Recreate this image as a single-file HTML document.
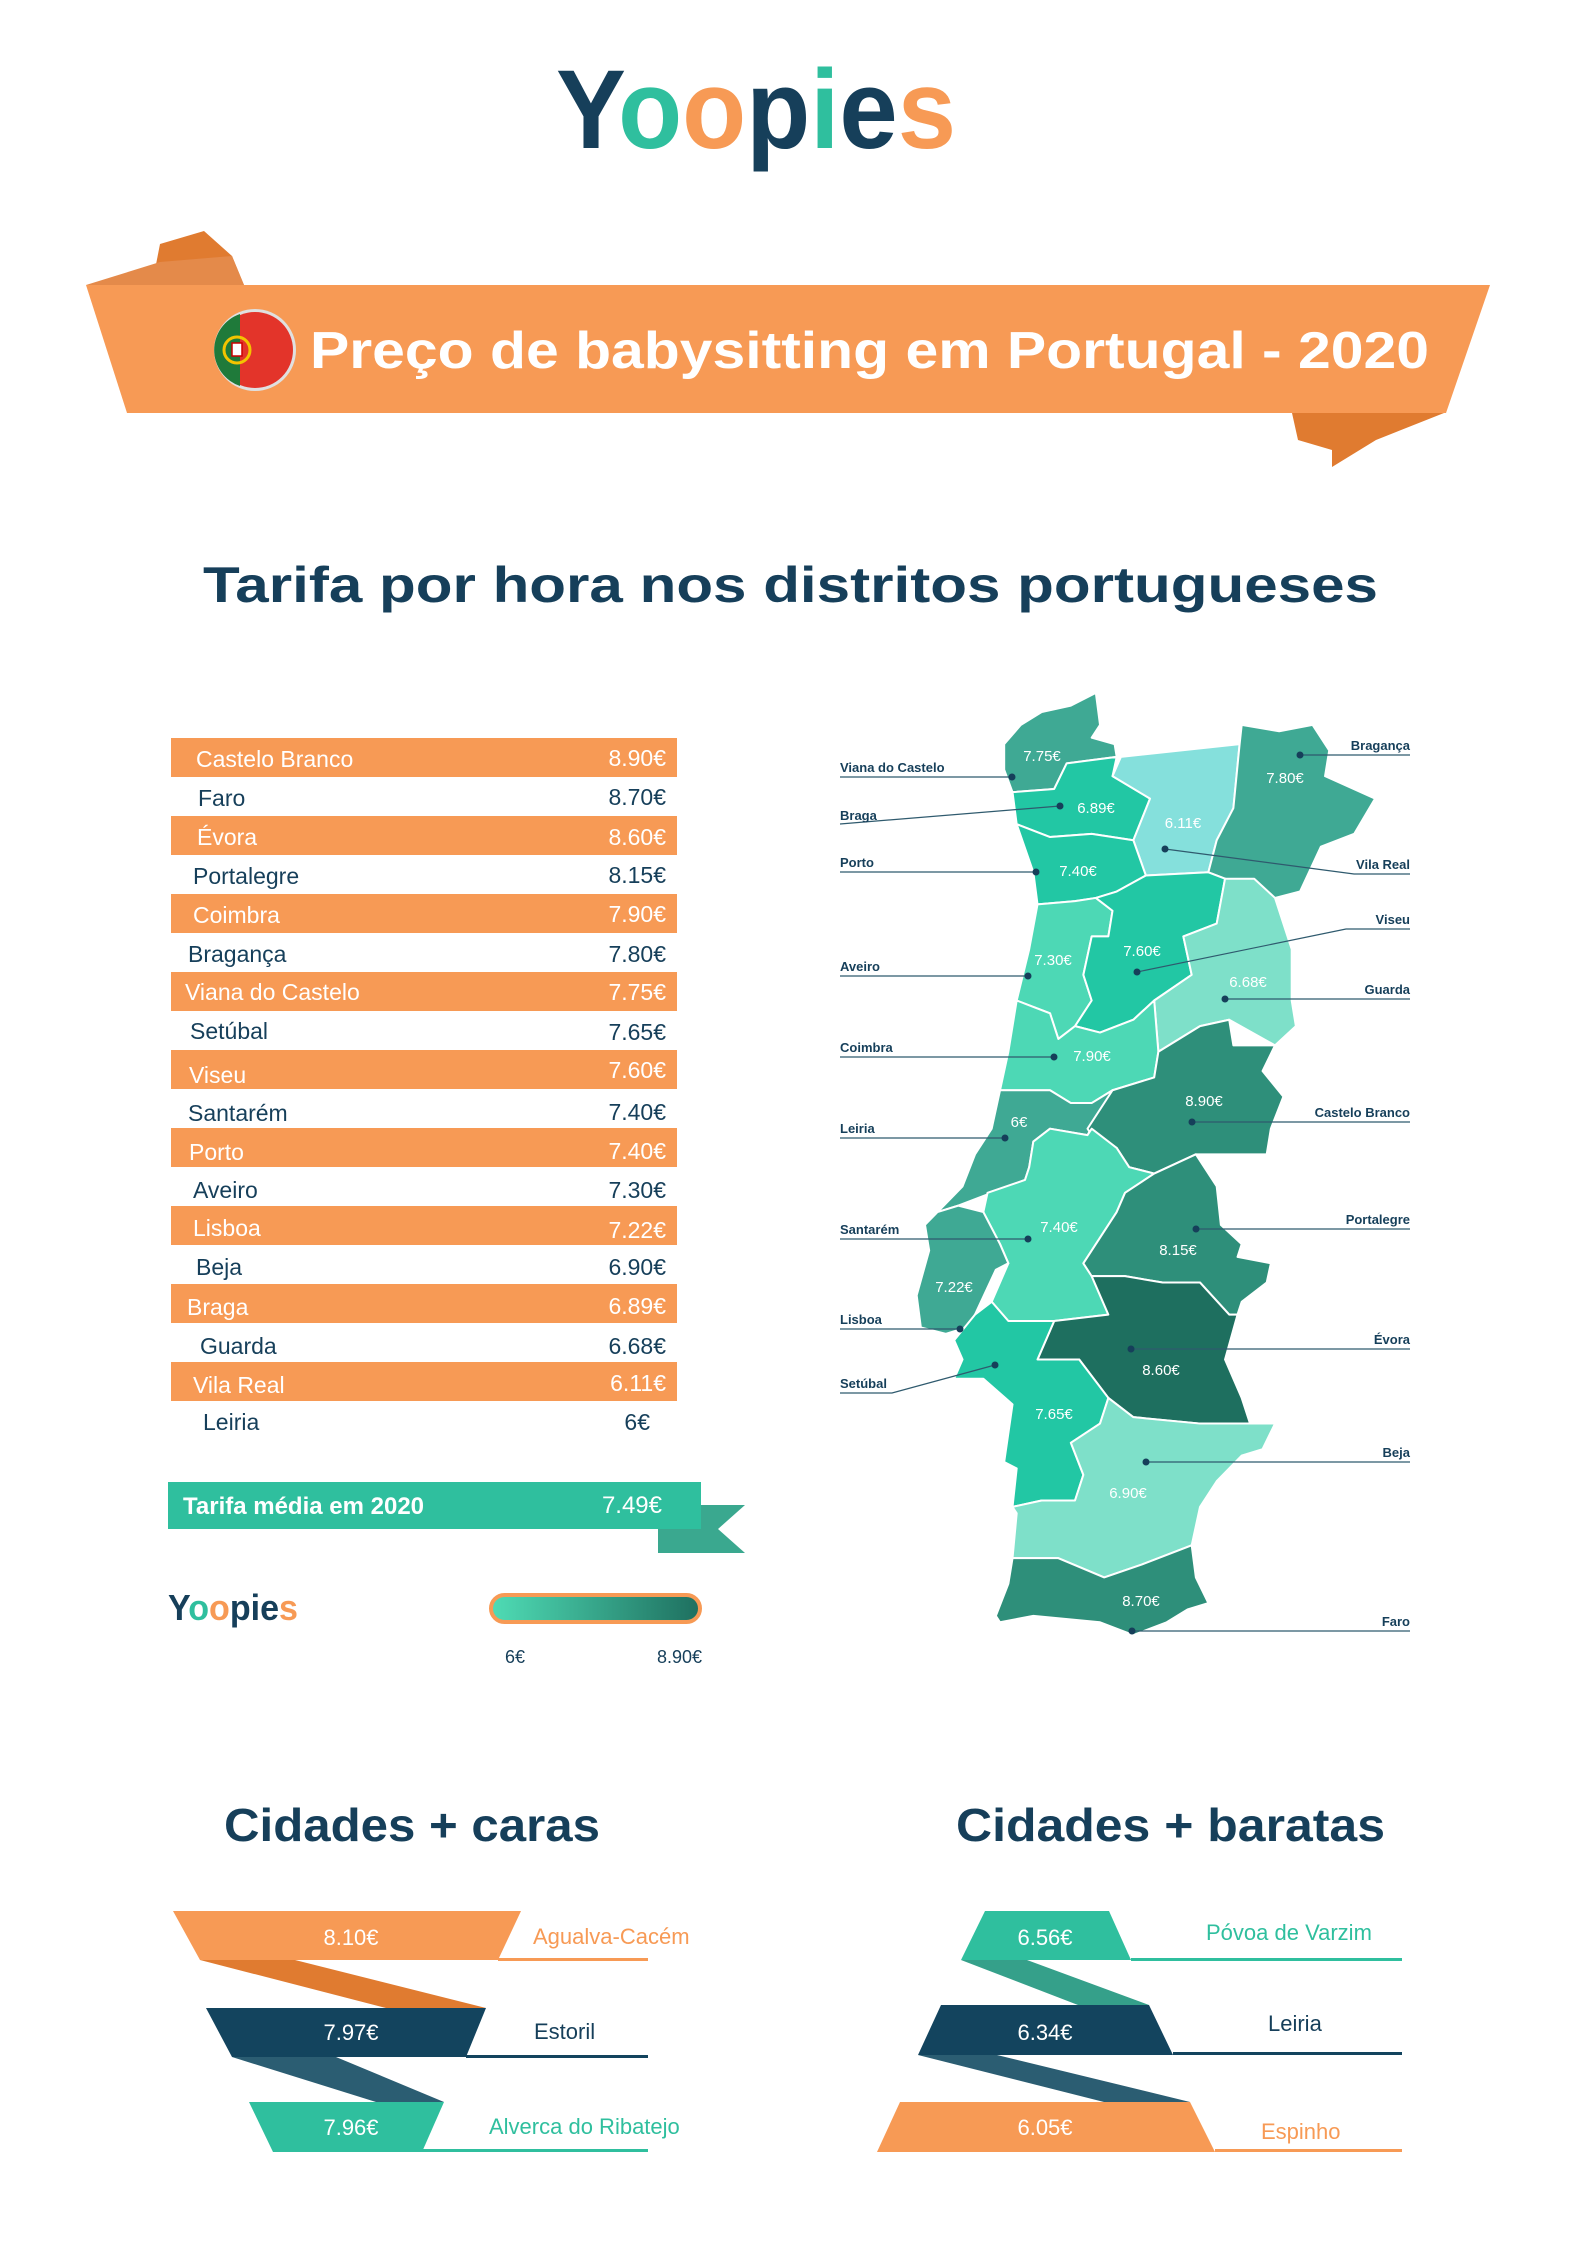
<!DOCTYPE html>
<html><head><meta charset="utf-8"><style>
html,body{margin:0;padding:0;background:#fff;}
svg{display:block;font-family:"Liberation Sans",sans-serif;}
</style></head><body>
<svg width="1587" height="2245" viewBox="0 0 1587 2245" xmlns="http://www.w3.org/2000/svg">
<text x="756" y="148" text-anchor="middle" font-size="112" font-weight="bold" fill="#163f5a" textLength="400" lengthAdjust="spacingAndGlyphs"><tspan>Y</tspan><tspan fill="#2fbf9e">o</tspan><tspan fill="#f79a55">o</tspan><tspan>p</tspan><tspan fill="#2fbf9e">i</tspan><tspan>e</tspan><tspan fill="#f79a55">s</tspan></text>

<polygon points="152,285 160,244 204,231 232,256 244,285" fill="#e07b30"/>
<polygon points="86,285 160,262 232,256 244,285" fill="#e48a4a"/>
<polygon points="1292,413 1444,413 1376,440 1332,467 1332,450 1298,440" fill="#e07b30"/>
<polygon points="86,285 1490,285 1446,413 127,413" fill="#f79a55"/>
<circle cx="255" cy="350" r="41" fill="#e0e0e0"/>
<circle cx="255" cy="350" r="38" fill="#e3342a"/>
<path d="M240,314 A38,38 0 0 0 240,386 Z" fill="#1f7a3a"/>
<circle cx="237" cy="350" r="13" fill="none" stroke="#f3c400" stroke-width="3"/>
<rect x="232" y="343" width="10" height="13" fill="#fff" stroke="#c00" stroke-width="1.5"/>
<text x="310" y="368" font-size="52" font-weight="bold" fill="#fff" textLength="1119" lengthAdjust="spacingAndGlyphs">Preço de babysitting em Portugal - 2020</text>

<text x="203" y="602" font-size="50" font-weight="bold" fill="#163f5a" textLength="1175" lengthAdjust="spacingAndGlyphs">Tarifa por hora nos distritos portugueses</text>

<g font-size="23" fill="#163f5a">
<rect x="171" y="738" width="506" height="39" fill="#f79a55"/>
<rect x="171" y="816" width="506" height="39" fill="#f79a55"/>
<rect x="171" y="894" width="506" height="39" fill="#f79a55"/>
<rect x="171" y="972" width="506" height="39" fill="#f79a55"/>
<rect x="171" y="1050" width="506" height="39" fill="#f79a55"/>
<rect x="171" y="1128" width="506" height="39" fill="#f79a55"/>
<rect x="171" y="1206" width="506" height="39" fill="#f79a55"/>
<rect x="171" y="1284" width="506" height="39" fill="#f79a55"/>
<rect x="171" y="1362" width="506" height="39" fill="#f79a55"/>
<g fill="#fff">
<text x="196" y="767">Castelo Branco</text><text x="666" y="766" text-anchor="end">8.90€</text>
<text x="197" y="845">Évora</text><text x="666" y="845" text-anchor="end">8.60€</text>
<text x="193" y="923">Coimbra</text><text x="666" y="922" text-anchor="end">7.90€</text>
<text x="185" y="1000">Viana do Castelo</text><text x="666" y="1000" text-anchor="end">7.75€</text>
<text x="189" y="1083">Viseu</text><text x="666" y="1078" text-anchor="end">7.60€</text>
<text x="189" y="1160">Porto</text><text x="666" y="1159" text-anchor="end">7.40€</text>
<text x="193" y="1236">Lisboa</text><text x="666" y="1238" text-anchor="end">7.22€</text>
<text x="187" y="1315">Braga</text><text x="666" y="1314" text-anchor="end">6.89€</text>
<text x="193" y="1393">Vila Real</text><text x="666" y="1391" text-anchor="end">6.11€</text>
</g>
<text x="198" y="806">Faro</text><text x="666" y="805" text-anchor="end">8.70€</text>
<text x="193" y="884">Portalegre</text><text x="666" y="883" text-anchor="end">8.15€</text>
<text x="188" y="962">Bragança</text><text x="666" y="962" text-anchor="end">7.80€</text>
<text x="190" y="1039">Setúbal</text><text x="666" y="1040" text-anchor="end">7.65€</text>
<text x="188" y="1121">Santarém</text><text x="666" y="1120" text-anchor="end">7.40€</text>
<text x="193" y="1198">Aveiro</text><text x="666" y="1198" text-anchor="end">7.30€</text>
<text x="196" y="1275">Beja</text><text x="666" y="1275" text-anchor="end">6.90€</text>
<text x="200" y="1354">Guarda</text><text x="666" y="1354" text-anchor="end">6.68€</text>
<text x="203" y="1430">Leiria</text><text x="650" y="1430" text-anchor="end">6€</text>
</g>

<polygon points="658,1505 745,1505 718,1529 745,1553 658,1553" fill="#3aa88f"/>
<rect x="168" y="1482" width="533" height="47" fill="#2fbf9e"/>
<text x="183" y="1514" font-size="24" font-weight="bold" fill="#fff">Tarifa média em 2020</text>
<text x="662" y="1513" font-size="24" fill="#fff" text-anchor="end">7.49€</text>

<text x="168" y="1620" font-size="36" font-weight="bold" fill="#163f5a" textLength="130" lengthAdjust="spacingAndGlyphs">Y<tspan fill="#2fbf9e">o</tspan><tspan fill="#f79a55">o</tspan>pi<tspan>e</tspan><tspan fill="#f79a55">s</tspan></text>
<defs><linearGradient id="g" x1="0" x2="1"><stop offset="0" stop-color="#4fdcb5"/><stop offset="1" stop-color="#1e6f5f"/></linearGradient></defs>
<rect x="491" y="1595" width="209" height="27" rx="13.5" fill="url(#g)" stroke="#f79a55" stroke-width="4"/>
<text x="505" y="1663" font-size="18" fill="#163f5a">6€</text>
<text x="702" y="1663" font-size="18" fill="#163f5a" text-anchor="end">8.90€</text>

<g transform="translate(800,680) scale(0.4167,0.641)" stroke="#fff" stroke-width="2" stroke-linejoin="round">
<polygon vector-effect="non-scaling-stroke" fill="#3fa994" points="490,100 530,70 580,50 650,40 710,20 720,70 700,90 755,100 760,120 640,130 610,170 510,175 490,140"/>
<polygon vector-effect="non-scaling-stroke" fill="#22c7a4" points="510,175 610,170 640,130 760,120 750,150 840,185 800,250 700,240 600,245 520,225"/>
<polygon vector-effect="non-scaling-stroke" fill="#85e0dc" points="750,150 770,120 1055,100 1040,200 1000,250 980,300 830,305 800,250 840,185"/>
<polygon vector-effect="non-scaling-stroke" fill="#3fa994" points="1055,100 1060,70 1150,80 1230,70 1270,110 1260,150 1380,185 1330,240 1250,260 1200,330 1140,340 1020,310 980,300 1000,250 1040,200"/>
<polygon vector-effect="non-scaling-stroke" fill="#22c7a4" points="520,225 600,245 700,240 800,250 830,305 760,330 710,340 660,345 570,350 560,300"/>
<polygon vector-effect="non-scaling-stroke" fill="#4dd8b5" points="570,350 660,345 710,340 750,360 740,400 700,400 680,460 700,500 660,540 620,560 600,520 560,510 520,500 550,420"/>
<polygon vector-effect="non-scaling-stroke" fill="#22c7a4" points="710,340 760,330 830,305 980,300 1020,310 1000,380 920,400 940,460 850,500 800,530 720,550 660,540 700,500 680,460 700,400 740,400 750,360"/>
<polygon vector-effect="non-scaling-stroke" fill="#7ee0c9" points="1020,310 1090,310 1140,340 1180,420 1180,500 1190,540 1140,570 1030,530 960,540 860,580 850,500 940,460 920,400 1000,380"/>
<polygon vector-effect="non-scaling-stroke" fill="#4dd8b5" points="520,500 560,510 600,520 620,560 660,540 720,550 800,530 850,500 860,580 850,620 750,640 700,660 650,660 600,640 480,640 500,580"/>
<polygon vector-effect="non-scaling-stroke" fill="#3fa994" points="480,640 600,640 650,660 700,660 750,640 690,710 600,700 560,720 550,760 540,780 460,800 380,820 330,830 390,790 420,740 460,700"/>
<polygon vector-effect="non-scaling-stroke" fill="#2e8f7a" points="860,580 960,540 1030,530 1040,570 1140,570 1110,610 1160,650 1130,700 1120,740 950,740 850,770 790,760 760,730 700,710 690,700 750,640 850,620"/>
<polygon vector-effect="non-scaling-stroke" fill="#4dd8b5" points="560,720 600,700 690,710 700,700 760,730 790,760 850,770 780,800 760,830 700,890 680,910 700,930 740,990 610,1000 500,1000 460,970 500,910 480,880 440,830 450,800 540,780 550,760"/>
<polygon vector-effect="non-scaling-stroke" fill="#3fa994" points="330,830 380,820 440,830 480,880 500,910 470,920 420,990 400,1010 350,1020 290,1010 280,960 310,890 300,850"/>
<polygon vector-effect="non-scaling-stroke" fill="#2e8f7a" points="850,770 950,740 1000,790 1010,850 1060,880 1050,900 1130,910 1120,940 1060,970 1050,990 1030,990 960,940 870,940 780,930 700,930 680,910 760,830 780,800"/>
<polygon vector-effect="non-scaling-stroke" fill="#1e6f5f" points="700,930 780,930 870,940 960,940 1030,990 1050,990 1020,1060 1060,1120 1080,1160 960,1160 800,1150 740,1120 670,1060 570,1060 610,1000 740,990"/>
<polygon vector-effect="non-scaling-stroke" fill="#22c7a4" points="370,1030 420,990 460,970 500,1000 610,1000 570,1060 670,1060 740,1120 720,1160 650,1190 680,1240 660,1280 580,1280 510,1290 520,1230 490,1220 510,1130 440,1090 370,1090 390,1060"/>
<polygon vector-effect="non-scaling-stroke" fill="#7ee0c9" points="720,1160 740,1120 800,1150 960,1160 1080,1160 1140,1160 1110,1200 1060,1210 1000,1250 960,1290 940,1350 820,1380 730,1400 620,1370 510,1370 520,1300 510,1290 580,1280 660,1280 680,1240 650,1190"/>
<polygon vector-effect="non-scaling-stroke" fill="#2e8f7a" points="510,1370 620,1370 730,1400 820,1380 940,1350 950,1400 980,1440 930,1450 880,1470 800,1490 720,1470 560,1460 480,1470 470,1460 500,1410"/>
</g>
<g font-size="15" fill="#fff" text-anchor="middle">
<text x="1042" y="761">7.75€</text><text x="1285" y="783">7.80€</text><text x="1096" y="813">6.89€</text>
<text x="1183" y="828">6.11€</text><text x="1078" y="876">7.40€</text><text x="1142" y="956">7.60€</text>
<text x="1053" y="965">7.30€</text><text x="1248" y="987">6.68€</text><text x="1092" y="1061">7.90€</text>
<text x="1204" y="1106">8.90€</text><text x="1019" y="1127">6€</text><text x="1059" y="1232">7.40€</text>
<text x="1178" y="1255">8.15€</text><text x="954" y="1292">7.22€</text><text x="1161" y="1375">8.60€</text>
<text x="1054" y="1419">7.65€</text><text x="1128" y="1498">6.90€</text><text x="1141" y="1606">8.70€</text>
</g>
<g stroke="#2f5a6e" stroke-width="1.2" fill="none">
<polyline points="840,777 1012,777"/>
<polyline points="840,824 1060,806"/>
<polyline points="840,872 1036,872"/>
<polyline points="840,976 1028,976"/>
<polyline points="840,1057 1054,1057"/>
<polyline points="840,1138 1005,1138"/>
<polyline points="840,1239 1028,1239"/>
<polyline points="840,1329 960,1329"/>
<polyline points="840,1393 892,1393 995,1365"/>
<polyline points="1410,755 1300,755"/>
<polyline points="1410,874 1354,874 1165,849"/>
<polyline points="1410,929 1346,929 1137,972"/>
<polyline points="1410,999 1225,999"/>
<polyline points="1410,1122 1192,1122"/>
<polyline points="1410,1229 1196,1229"/>
<polyline points="1410,1349 1131,1349"/>
<polyline points="1410,1462 1146,1462"/>
<polyline points="1410,1631 1132,1631"/>
</g>
<g fill="#163f5a">
<circle cx="1012" cy="777" r="3.5"/><circle cx="1060" cy="806" r="3.5"/><circle cx="1036" cy="872" r="3.5"/>
<circle cx="1028" cy="976" r="3.5"/><circle cx="1054" cy="1057" r="3.5"/><circle cx="1005" cy="1138" r="3.5"/>
<circle cx="1028" cy="1239" r="3.5"/><circle cx="960" cy="1329" r="3.5"/><circle cx="995" cy="1365" r="3.5"/>
<circle cx="1300" cy="755" r="3.5"/><circle cx="1165" cy="849" r="3.5"/><circle cx="1137" cy="972" r="3.5"/>
<circle cx="1225" cy="999" r="3.5"/><circle cx="1192" cy="1122" r="3.5"/><circle cx="1196" cy="1229" r="3.5"/>
<circle cx="1131" cy="1349" r="3.5"/><circle cx="1146" cy="1462" r="3.5"/><circle cx="1132" cy="1631" r="3.5"/>
</g>
<g font-size="13" font-weight="bold" fill="#163f5a">
<text x="840" y="772">Viana do Castelo</text><text x="840" y="820">Braga</text><text x="840" y="867">Porto</text>
<text x="840" y="971">Aveiro</text><text x="840" y="1052">Coimbra</text><text x="840" y="1133">Leiria</text>
<text x="840" y="1234">Santarém</text><text x="840" y="1324">Lisboa</text><text x="840" y="1388">Setúbal</text>
<g text-anchor="end">
<text x="1410" y="750">Bragança</text><text x="1410" y="869">Vila Real</text><text x="1410" y="924">Viseu</text>
<text x="1410" y="994">Guarda</text><text x="1410" y="1117">Castelo Branco</text><text x="1410" y="1224">Portalegre</text>
<text x="1410" y="1344">Évora</text><text x="1410" y="1457">Beja</text><text x="1410" y="1626">Faro</text>
</g></g>

<text x="224" y="1841" font-size="46" font-weight="bold" fill="#163f5a" textLength="376" lengthAdjust="spacingAndGlyphs">Cidades + caras</text>
<text x="956" y="1841" font-size="46" font-weight="bold" fill="#163f5a" textLength="429" lengthAdjust="spacingAndGlyphs">Cidades + baratas</text>

<polygon points="200,1960 295,1960 486,2008 386,2008" fill="#e07b30"/>
<polygon points="232,2057 336,2057 444,2102 376,2102" fill="#2b5d72"/>
<polygon points="173,1911 521,1911 498,1960 200,1960" fill="#f79a55"/>
<polygon points="206,2008 486,2008 466,2057 232,2057" fill="#13445e"/>
<polygon points="249,2102 444,2102 422,2152 273,2152" fill="#2fbf9e"/>
<rect x="498" y="1958" width="150" height="3" fill="#f79a55"/>
<rect x="466" y="2055" width="182" height="3" fill="#13445e"/>
<rect x="422" y="2149" width="226" height="3" fill="#2fbf9e"/>
<g font-size="22">
<text x="533" y="1944" fill="#f79a55">Agualva-Cacém</text>
<text x="534" y="2039" fill="#163f5a">Estoril</text>
<text x="489" y="2134" fill="#2fbf9e">Alverca do Ribatejo</text>
<text x="1206" y="1940" fill="#2fbf9e">Póvoa de Varzim</text>
<text x="1268" y="2031" fill="#163f5a">Leiria</text>
<text x="1261" y="2139" fill="#f79a55">Espinho</text>
</g>

<polygon points="961,1960 1027,1960 1149,2005 1078,2005" fill="#35a08a"/>
<polygon points="918,2055 997,2055 1190,2102 1104,2102" fill="#2b5d72"/>
<polygon points="985,1911 1109,1911 1131,1960 961,1960" fill="#2fbf9e"/>
<polygon points="941,2005 1149,2005 1173,2055 918,2055" fill="#13445e"/>
<polygon points="900,2102 1190,2102 1215,2152 877,2152" fill="#f79a55"/>
<rect x="1131" y="1958" width="271" height="3" fill="#2fbf9e"/>
<rect x="1173" y="2052" width="229" height="3" fill="#13445e"/>
<rect x="1215" y="2149" width="187" height="3" fill="#f79a55"/>
<g font-size="22" text-anchor="middle" fill="#fff">
<text x="351" y="1945">8.10€</text><text x="351" y="2040">7.97€</text><text x="351" y="2135">7.96€</text>
<text x="1045" y="1945">6.56€</text><text x="1045" y="2040">6.34€</text><text x="1045" y="2135">6.05€</text>
</g>
</svg>
</body></html>
